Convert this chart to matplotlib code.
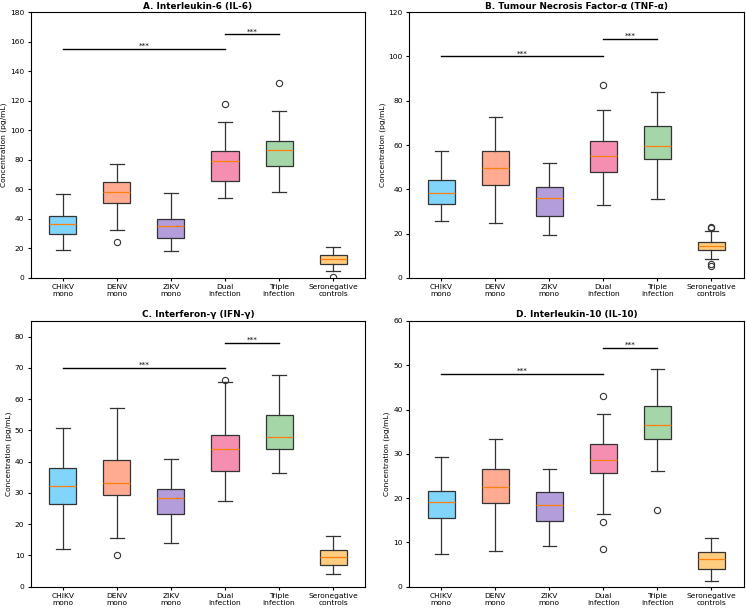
import matplotlib
matplotlib.use("Agg")
import matplotlib.pyplot as plt

groups = ["CHIKV\nmono", "DENV\nmono", "ZIKV\nmono", "Dual\ninfection",
          "Triple\ninfection", "Seronegative\ncontrols"]
colors = ["#81D4FA", "#FFAB91", "#B39DDB", "#F48FB1", "#A5D6A7", "#FFCC80"]

titles = ["A. Interleukin-6 (IL-6)", "B. Tumour Necrosis Factor-\u03b1 (TNF-\u03b1)",
          "C. Interferon-\u03b3 (IFN-\u03b3)", "D. Interleukin-10 (IL-10)"]

# per group: whislo, q1, median, q3, whishi
il6 = [[19, 30, 36.5, 42, 57], [32.5, 51, 58, 65, 77], [18, 27, 35, 40, 57.5],
       [54, 65.5, 79.5, 86, 105.5], [58.5, 76, 86.5, 92.5, 113], [4.5, 9.5, 12.5, 15.5, 21]]
il6_out = [[], [24.5], [], [117.5], [132], [0.3]]

tnf = [[25.5, 33.5, 38.5, 44, 57.5], [25, 42, 49.5, 57.5, 72.5], [19.5, 28, 36, 41, 52],
       [33, 48, 55, 62, 76], [35.5, 53.5, 59.5, 68.5, 84], [8.5, 12.5, 14.5, 16, 21]]
tnf_out = [[], [], [], [87], [], [22.5, 23.2, 5.5, 6.2]]

ifn = [[12.2, 26.5, 32.3, 38, 50.8], [15.5, 29.3, 33.3, 40.6, 57.3], [14, 23.3, 28.5, 31.4, 40.9],
       [27.5, 37.1, 44.2, 48.6, 65.5], [36.3, 44.2, 47.9, 54.9, 67.8], [4, 7, 9.5, 11.9, 16.2]]
ifn_out = [[], [10.3], [], [66.2], [], []]

il10 = [[7.4, 15.6, 19.2, 21.6, 29.2], [8, 18.8, 22.6, 26.5, 33.4], [9.3, 14.9, 18.5, 21.4, 26.5],
        [16.5, 25.7, 28.7, 32.3, 39.1], [26.2, 33.4, 36.6, 40.7, 49.2], [1.2, 4.1, 6.2, 7.8, 11.1]]
il10_out = [[], [], [], [43.1, 14.6, 8.6], [17.4], []]

panels = [il6, tnf, ifn, il10]
outliers = [il6_out, tnf_out, ifn_out, il10_out]
ylims = [180, 120, 85, 60]
yticks = [range(0, 181, 20), range(0, 121, 20), range(0, 81, 10), range(0, 61, 10)]
# significance bars: (y for CHIKV..Dual, y for Dual..Triple)
sig_y = [(155, 165), (100, 108), (70, 78), (48, 54)]

plt.rcParams["font.size"] = 5.4
plt.rcParams["xtick.major.size"] = 2.5
plt.rcParams["ytick.major.size"] = 2.5
fig, axes = plt.subplots(2, 2, figsize=(7.46, 6.08), dpi=100)
fig.subplots_adjust(left=0.041, right=0.997, bottom=0.035, top=0.98, wspace=0.13, hspace=0.162)

for ax, data, outs, title, ytop, yt, sy in zip(axes.flat, panels, outliers, titles, ylims, yticks, sig_y):
    stats = []
    for g, d, o in zip(groups, data, outs):
        stats.append(dict(label=g, whislo=d[0], q1=d[1], med=d[2], q3=d[3], whishi=d[4], fliers=o))
    bp = ax.bxp(stats, positions=range(1, 7), widths=0.5, patch_artist=True,
                boxprops=dict(edgecolor="#333333", linewidth=0.9),
                whiskerprops=dict(color="#333333", linewidth=0.9),
                capprops=dict(color="#333333", linewidth=0.9),
                medianprops=dict(color="#ff7f0e", linewidth=0.9),
                flierprops=dict(marker="o", markerfacecolor="none", markeredgecolor="#333333",
                                markersize=4.5, markeredgewidth=0.8))
    for patch, c in zip(bp["boxes"], colors):
        patch.set_facecolor(c)
    ax.set_ylim(0, ytop)
    ax.set_yticks(list(yt))
    ax.set_xlim(0.4, 6.6)
    ax.set_ylabel("Concentration (pg/mL)", labelpad=2)
    ax.set_title(title, fontweight="bold", fontsize=6.4, pad=2.5)
    ax.tick_params(pad=2)

    ax.plot([1, 4], [sy[0], sy[0]], color="black", linewidth=1)
    ax.text(2.5, sy[0], "***", ha="center", va="bottom", fontsize=5.4)
    ax.plot([4, 5], [sy[1], sy[1]], color="black", linewidth=1)
    ax.text(4.5, sy[1], "***", ha="center", va="bottom", fontsize=5.4)

fig.savefig("out.png", dpi=100)
